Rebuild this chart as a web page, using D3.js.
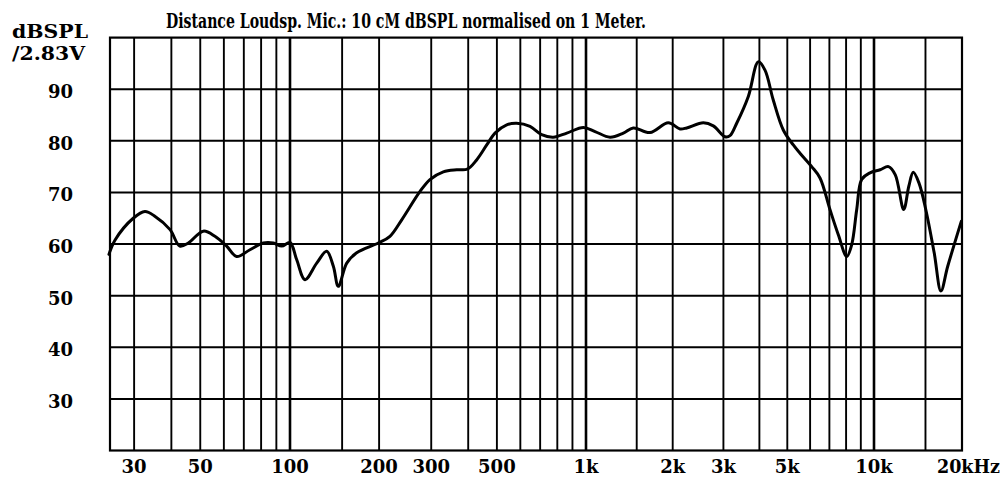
<!DOCTYPE html>
<html>
<head>
<meta charset="utf-8">
<script src="https://cdn.jsdelivr.net/npm/d3@7"></script>
<style>
  html, body { margin: 0; padding: 0; background: #fff; }
  svg { display: block; }
  text { font-family: "DejaVu Serif", "Liberation Serif", serif; font-weight: bold; fill: #000; }
</style>
</head>
<body>
<svg id="chart" width="1005" height="485"></svg>
<script>
// ---- data ----
const freqHz = [24.7, 25.9, 29.8, 32.6, 35.2, 39.6, 42.7, 45.6, 51.2, 56.0, 61.3, 66.2, 73.4, 81.4, 87.9, 93.8, 100,
  105.3, 112.4, 123.1, 133.0, 140.1, 145.6, 155.5, 168.0, 198.7, 217.6, 238.5, 275, 297, 329.6, 365.8, 397, 427, 462, 492.7,
  539.7, 583, 647, 708, 775, 861, 980,
  1075, 1212, 1348, 1459, 1668, 1931, 2120, 2237, 2555, 2767, 3039, 3162, 3336, 3661, 3965, 4183, 4469, 4842, 5246,
  5534, 6077, 6494, 7031, 7518, 8040, 8369, 8710, 9062, 9685,
  10491, 11213, 11827, 12637, 13155, 13624, 14256, 15034, 16066, 16943, 17874, 19888];
const splDb = [58.0, 60.8, 65.0, 66.3, 65.4, 62.8, 59.6, 60.2, 62.5, 61.5, 59.6, 57.6, 58.9, 60.2, 60.2, 59.6, 60.3,
  57.0, 53.1, 56.3, 58.6, 55.7, 51.8, 56.3, 58.3, 60.2, 61.5, 64.7, 70.2, 72.5, 74.0, 74.4, 74.5, 76.3, 79.2, 81.5,
  83.1, 83.4, 82.8, 81.2, 80.7, 81.5, 82.6,
  81.8, 80.7, 81.5, 82.5, 81.6, 83.5, 82.3, 82.5, 83.5, 82.9, 80.8, 81.0, 83.4, 88.6, 95.3, 93.7, 87.9, 82.1, 79.2,
  77.6, 75.0, 72.8, 66.7, 61.8, 57.6, 59.9, 66.7, 72.5, 73.8,
  74.4, 75.0, 73.4, 66.7, 71.2, 73.9, 71.8, 66.7, 58.3, 50.9, 55.7, 64.4];

const gridFreqs = [30, 40, 50, 60, 70, 80, 90, 100, 150, 200, 300, 400, 500, 600, 700, 800, 900,
  1000, 1500, 2000, 3000, 4000, 5000, 6000, 7000, 8000, 9000, 10000, 15000];
const xTickValues = [30, 50, 100, 200, 300, 500, 1000, 2000, 3000, 5000, 10000];
const xTickLabels = ["30", "50", "100", "200", "300", "500", "1k", "2k", "3k", "5k", "10k"];
const xEndLabel = "20kHz";
const yTickValues = [30, 40, 50, 60, 70, 80, 90];
const yTickLabels = ["30", "40", "50", "60", "70", "80", "90"];
const yUnitLines = ["dBSPL", "/2.83V"];
const titleText = "Distance Loudsp. Mic.: 10 cM dBSPL normalised on 1 Meter.";

// ---- layout ----
const svg = d3.select("#chart");
const plotL = 110, plotR = 962, plotT = 37.6, plotB = 450.5;

// piecewise log scale (paper chart decades are slightly uneven)
const x = d3.scaleLog()
  .domain([24.9, 100, 1000, 10000, 20000])
  .range([plotL, 290, 586, 874, plotR]);
const y = d3.scaleLinear().domain([20, 100]).range([plotB, plotT]);

const g = svg.append("g");

// horizontal grid
g.selectAll("line.h").data(yTickValues).enter().append("line")
  .attr("x1", plotL).attr("x2", plotR)
  .attr("y1", d => y(d)).attr("y2", d => y(d))
  .attr("stroke", "#000").attr("stroke-width", 2);

// vertical grid
g.selectAll("line.v").data(gridFreqs).enter().append("line")
  .attr("x1", d => x(d)).attr("x2", d => x(d))
  .attr("y1", plotT).attr("y2", plotB)
  .attr("stroke", "#000")
  .attr("stroke-width", d => (d === 100 || d === 1000 || d === 10000) ? 2.6 : 1.9);

// frame
g.append("rect").attr("x", plotL).attr("y", plotT)
  .attr("width", plotR - plotL).attr("height", plotB - plotT)
  .attr("fill", "none").attr("stroke", "#000").attr("stroke-width", 2.2);

// curve
const pts = freqHz.map((f, i) => [f, splDb[i]]);
const line = d3.line().x(d => x(d[0])).y(d => y(d[1])).curve(d3.curveCatmullRom.alpha(0.5));
g.append("path").datum(pts).attr("d", line)
  .attr("fill", "none").attr("stroke", "#000").attr("stroke-width", 3)
  .attr("stroke-linejoin", "round").attr("stroke-linecap", "round");

// y tick labels
g.selectAll("text.yl").data(yTickValues).enter().append("text")
  .attr("x", 73).attr("y", d => y(d) + 9)
  .attr("text-anchor", "end").attr("font-size", 18)
  .text((d, i) => yTickLabels[i]);

// y unit
svg.append("text").attr("x", 12).attr("y", 38).attr("font-size", 19)
  .attr("textLength", 76).attr("lengthAdjust", "spacingAndGlyphs").text(yUnitLines[0]);
svg.append("text").attr("x", 12).attr("y", 60).attr("font-size", 18)
  .attr("textLength", 73).attr("lengthAdjust", "spacingAndGlyphs").text(yUnitLines[1]);

// x tick labels
g.selectAll("text.xl").data(xTickValues).enter().append("text")
  .attr("x", d => x(d)).attr("y", 473)
  .attr("text-anchor", "middle").attr("font-size", 18)
  .text((d, i) => xTickLabels[i]);
svg.append("text").attr("x", 937).attr("y", 473).attr("font-size", 18)
  .attr("textLength", 63).attr("lengthAdjust", "spacingAndGlyphs").text(xEndLabel);

// title
svg.append("text").attr("x", 166).attr("y", 28).attr("font-size", 21)
  .attr("textLength", 480).attr("lengthAdjust", "spacingAndGlyphs").text(titleText);
</script>
</body>
</html>
